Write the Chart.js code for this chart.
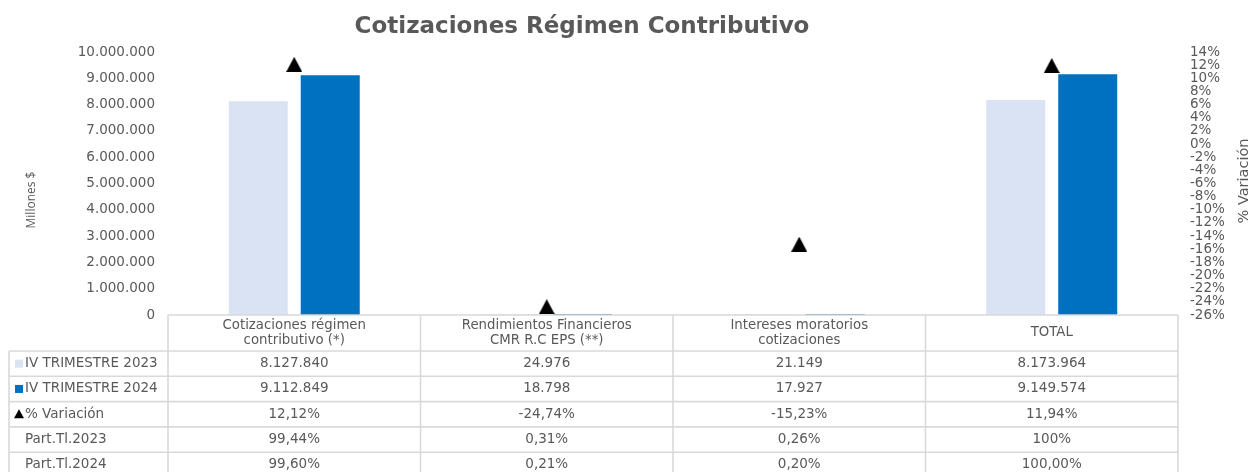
<!DOCTYPE html>
<html lang="es">
<head>
<meta charset="utf-8">
<title>Cotizaciones Régimen Contributivo</title>
<script src="https://cdn.jsdelivr.net/npm/chart.js@4.4.1/dist/chart.umd.min.js"></script>
<style>
  html, body { margin: 0; padding: 0; background: #ffffff; }
  #wrap { width: 1250px; height: 472px; }
</style>
</head>
<body>
<div id="wrap"><canvas id="cotizacionesChart" width="1250" height="472"></canvas></div>
<script>
// Categorias (encabezado de la tabla, en dos lineas)
const categorias = [
    ['Cotizaciones régimen', 'contributivo (*)'],
    ['Rendimientos Financieros', 'CMR R.C EPS (**)'],
    ['Intereses moratorios', 'cotizaciones'],
    ['TOTAL']
];

// Valores en millones de pesos
const trimestre2023 = [8127840, 24976, 21149, 8173964];
const trimestre2024 = [9112849, 18798, 17927, 9149574];

// % de variacion entre los dos trimestres
const variacion = [12.12, -24.74, -15.23, 11.94];

// Participacion sobre el total (tal como aparece en la tabla)
const partTl2023 = ['99,44%', '0,31%', '0,26%', '100%'];
const partTl2024 = ['99,60%', '0,21%', '0,20%', '100,00%'];

const colorGris = '#595959';
const color2023 = '#dae3f3';
const color2024 = '#0070c0';
const fuente = "'DejaVu Sans', Verdana, sans-serif";

// 8127840 -> 8.127.840
function formatMiles(v) {
    return String(Math.round(v)).replace(/\B(?=(\d{3})+(?!\d))/g, '.');
}

// 12.12 -> 12,12%
function formatPct(v) {
    return v.toFixed(2).replace('.', ',') + '%';
}

// Marcador triangular centrado en su caja (como en Excel)
function crearTriangulo(w, h) {
    const c = document.createElement('canvas');
    c.width = w;
    c.height = h;
    const g = c.getContext('2d');
    g.fillStyle = '#000000';
    g.beginPath();
    g.moveTo(w / 2, 0);
    g.lineTo(w, h);
    g.lineTo(0, h);
    g.closePath();
    g.fill();
    return c;
}
const marcadorTriangulo = crearTriangulo(16, 15);

// Filas de la tabla de datos debajo del grafico
const filasTabla = [
    { label: 'IV TRIMESTRE 2023', marca: 'cuadro', color: color2023, valores: trimestre2023.map(formatMiles) },
    { label: 'IV TRIMESTRE 2024', marca: 'cuadro', color: color2024, valores: trimestre2024.map(formatMiles) },
    { label: '% Variación', marca: 'triangulo', color: '#000000', valores: variacion.map(formatPct) },
    { label: 'Part.Tl.2023', marca: null, valores: partTl2023 },
    { label: 'Part.Tl.2024', marca: null, valores: partTl2024 }
];

// Plugin que dibuja titulo, titulos de ejes y la tabla de datos
const tablaPlugin = {
    id: 'tablaDatos',
    afterDraw(chart) {
        const ctx = chart.ctx;
        const area = chart.chartArea;
        const colW = (area.right - area.left) / categorias.length;
        const top = area.bottom;
        const headerH = 36;
        const rowH = 25.3;
        const labelLeft = 9;
        const bottom = top + headerH + rowH * filasTabla.length;

        ctx.save();

        // Titulo
        ctx.fillStyle = colorGris;
        ctx.font = 'bold 23px ' + fuente;
        ctx.textAlign = 'center';
        ctx.textBaseline = 'middle';
        ctx.fillText('Cotizaciones Régimen Contributivo', 582, 27);

        // Titulos de los ejes (rotados)
        ctx.font = "12px 'Open Sans', sans-serif";
        ctx.save();
        ctx.translate(32, 200);
        ctx.rotate(-Math.PI / 2);
        ctx.fillText('Millones $', 0, 0);
        ctx.restore();
        ctx.font = '14.5px ' + fuente;
        ctx.save();
        ctx.translate(1244, 181);
        ctx.rotate(-Math.PI / 2);
        ctx.fillText('% Variación', 0, 0);
        ctx.restore();

        // Lineas de la tabla
        ctx.strokeStyle = '#d9d9d9';
        ctx.lineWidth = 1.6;
        const linea = (x1, y1, x2, y2) => {
            ctx.beginPath();
            ctx.moveTo(x1, y1);
            ctx.lineTo(x2, y2);
            ctx.stroke();
        };
        linea(area.left, top, area.right, top);
        for (let r = 0; r <= filasTabla.length; r++) {
            const y = top + headerH + r * rowH;
            linea(labelLeft, y, area.right, y);
        }
        linea(labelLeft, top + headerH, labelLeft, bottom);
        for (let c = 0; c <= categorias.length; c++) {
            const x = area.left + c * colW;
            linea(x, top, x, bottom);
        }

        // Encabezados
        ctx.fillStyle = colorGris;
        ctx.font = '13.3px ' + fuente;
        ctx.textAlign = 'center';
        ctx.textBaseline = 'middle';
        categorias.forEach((lineas, c) => {
            const cx = area.left + (c + 0.5) * colW;
            const lh = 15;
            const y0 = top + headerH / 2 - (lineas.length - 1) * lh / 2;
            lineas.forEach((t, i) => ctx.fillText(t, cx, y0 + i * lh));
        });

        // Filas
        ctx.font = '13.5px ' + fuente;
        filasTabla.forEach((fila, r) => {
            const cy = top + headerH + (r + 0.5) * rowH;
            // marca de leyenda
            if (fila.marca === 'cuadro') {
                ctx.fillStyle = fila.color;
                ctx.fillRect(15, cy - 4, 8, 8);
            } else if (fila.marca === 'triangulo') {
                ctx.fillStyle = fila.color;
                ctx.beginPath();
                ctx.moveTo(19, cy - 5);
                ctx.lineTo(24, cy + 4);
                ctx.lineTo(14, cy + 4);
                ctx.closePath();
                ctx.fill();
            }
            ctx.fillStyle = colorGris;
            ctx.textAlign = 'left';
            ctx.fillText(fila.label, 25, cy);
            ctx.textAlign = 'center';
            fila.valores.forEach((v, c) => {
                ctx.fillText(v, area.left + (c + 0.5) * colW, cy);
            });
        });

        ctx.restore();
    }
};

Chart.defaults.font.family = fuente;
Chart.defaults.color = colorGris;

const ctx = document.getElementById('cotizacionesChart').getContext('2d');
const cotizacionesChart = new Chart(ctx, {
    type: 'bar',
    data: {
        labels: categorias.map(c => c.join(' ')),
        datasets: [
            {
                label: 'IV TRIMESTRE 2023',
                data: trimestre2023,
                backgroundColor: color2023,
                borderWidth: 0,
                yAxisID: 'y',
                order: 2
            },
            {
                label: 'IV TRIMESTRE 2024',
                data: trimestre2024,
                backgroundColor: color2024,
                borderWidth: 0,
                yAxisID: 'y',
                order: 2
            },
            {
                type: 'line',
                label: '% Variación',
                data: variacion,
                yAxisID: 'y1',
                showLine: false,
                pointStyle: marcadorTriangulo,
                pointRadius: 8,
                pointHoverRadius: 8,
                backgroundColor: '#000000',
                borderColor: '#000000',
                order: 1
            }
        ]
    },
    options: {
        responsive: false,
        animation: false,
        datasets: {
            bar: {
                categoryPercentage: 0.57,
                barPercentage: 0.82,
                minBarLength: 1
            }
        },
        layout: {
            padding: { top: 52, bottom: 157, left: 0, right: 0 }
        },
        plugins: {
            legend: { display: false },
            title: { display: false },
            tooltip: { enabled: false }
        },
        scales: {
            x: {
                display: false
            },
            y: {
                position: 'left',
                min: 0,
                max: 10000000,
                grid: { display: false, drawTicks: false },
                border: { display: false },
                ticks: {
                    stepSize: 1000000,
                    autoSkip: false,
                    padding: 13,
                    color: colorGris,
                    font: { size: 13.5 },
                    callback: v => formatMiles(v)
                },
                afterFit: scale => { scale.width = 168; }
            },
            y1: {
                position: 'right',
                min: -26,
                max: 14,
                grid: { display: false, drawTicks: false },
                border: { display: false },
                ticks: {
                    stepSize: 2,
                    autoSkip: false,
                    padding: 12,
                    color: colorGris,
                    font: { size: 13.5 },
                    callback: v => v + '%'
                },
                afterFit: scale => { scale.width = 72; }
            }
        }
    },
    plugins: [tablaPlugin]
});
</script>
</body>
</html>
